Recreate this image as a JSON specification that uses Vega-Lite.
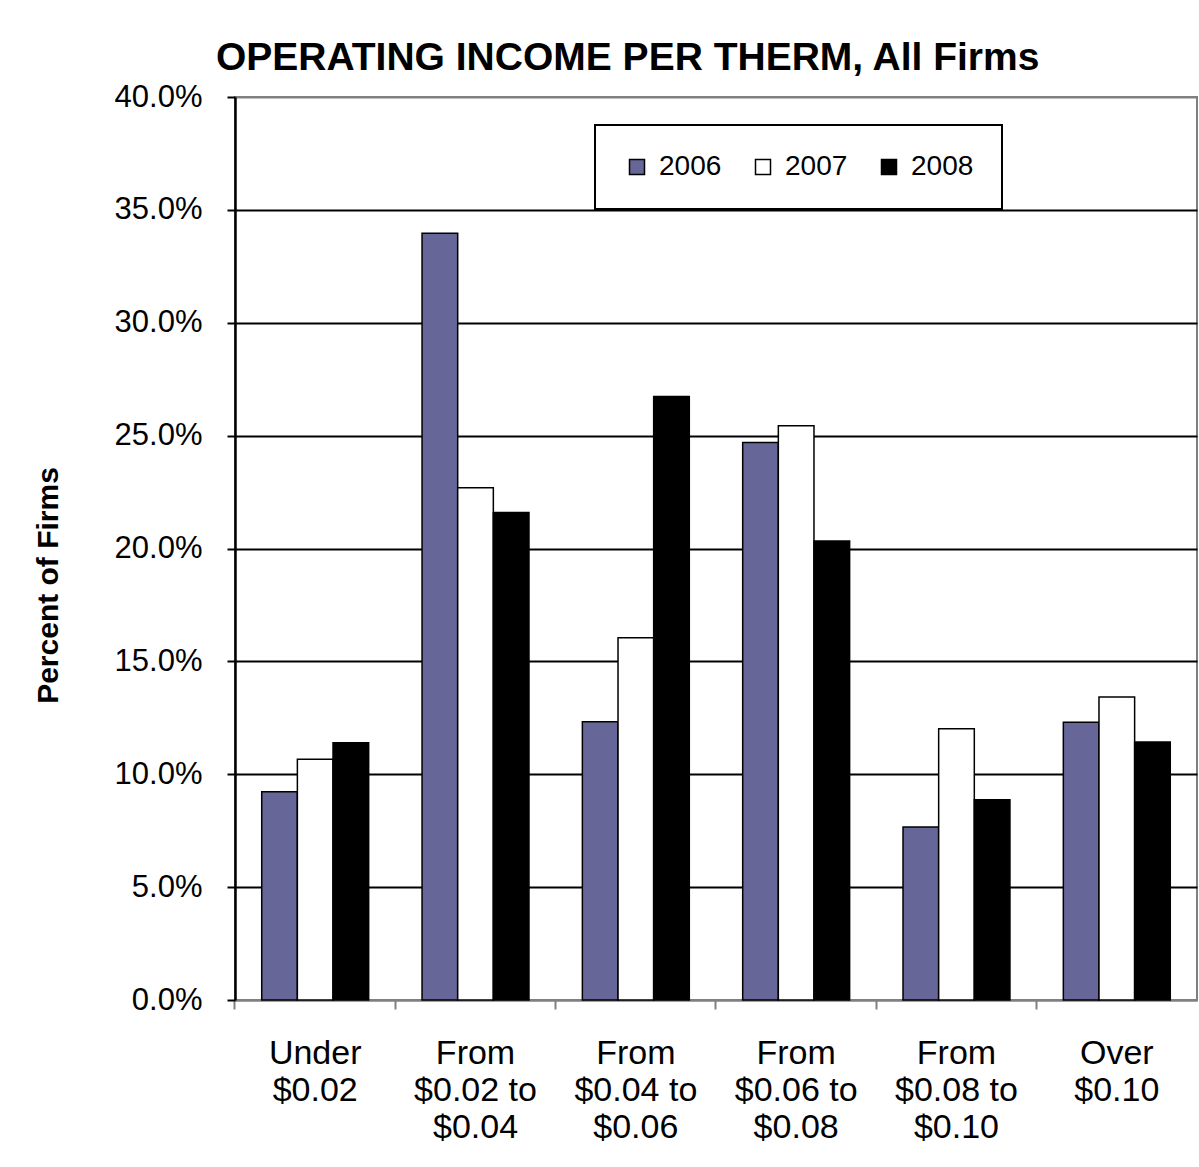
{
  "$schema": "https://vega.github.io/schema/vega-lite/v6.json",
  "autosize": {"type": "none"},
  "padding": {"left": 235, "top": 97, "right": 2, "bottom": 167},
  "width": 962,
  "height": 903,
  "background": "white",
  "title": {
    "text": "OPERATING INCOME PER THERM, All Firms",
    "anchor": "start",
    "frame": "group",
    "dx": -19,
    "offset": -28,
    "baseline": "alphabetic",
    "font": "Liberation Sans",
    "fontSize": 39,
    "fontWeight": "bold",
    "color": "black"
  },
  "data": {
    "values": [
      {"range": "Under|$0.02", "year": "2006", "share": 0.0923},
      {"range": "Under|$0.02", "year": "2007", "share": 0.1066},
      {"range": "Under|$0.02", "year": "2008", "share": 0.1140},
      {"range": "From|$0.02 to|$0.04", "year": "2006", "share": 0.3396},
      {"range": "From|$0.02 to|$0.04", "year": "2007", "share": 0.2269},
      {"range": "From|$0.02 to|$0.04", "year": "2008", "share": 0.2160},
      {"range": "From|$0.04 to|$0.06", "year": "2006", "share": 0.1233},
      {"range": "From|$0.04 to|$0.06", "year": "2007", "share": 0.1605},
      {"range": "From|$0.04 to|$0.06", "year": "2008", "share": 0.2673},
      {"range": "From|$0.06 to|$0.08", "year": "2006", "share": 0.2469},
      {"range": "From|$0.06 to|$0.08", "year": "2007", "share": 0.2544},
      {"range": "From|$0.06 to|$0.08", "year": "2008", "share": 0.2033},
      {"range": "From|$0.08 to|$0.10", "year": "2006", "share": 0.0766},
      {"range": "From|$0.08 to|$0.10", "year": "2007", "share": 0.1202},
      {"range": "From|$0.08 to|$0.10", "year": "2008", "share": 0.0887},
      {"range": "Over|$0.10", "year": "2006", "share": 0.1230},
      {"range": "Over|$0.10", "year": "2007", "share": 0.1342},
      {"range": "Over|$0.10", "year": "2008", "share": 0.1143}
    ]
  },
  "mark": {"type": "bar", "stroke": "black", "strokeWidth": 1.5},
  "encoding": {
    "x": {
      "field": "range",
      "type": "nominal",
      "sort": null,
      "scale": {"paddingInner": 0.333, "paddingOuter": 0.1667},
      "axis": {
        "title": null,
        "bandPosition": -0.25,
        "labelAngle": 0,
        "labelExpr": "split(datum.label, '|')",
        "labelFontSize": 34,
        "labelLineHeight": 37,
        "labelPadding": 27,
        "labelBaseline": "top",
        "labelColor": "black",
        "domainColor": "#808080",
        "domainWidth": 2,
        "tickColor": "#808080",
        "tickWidth": 2,
        "tickSize": 9,
        "grid": false
      }
    },
    "xOffset": {
      "field": "year",
      "type": "nominal",
      "scale": {"paddingInner": 0, "paddingOuter": 0}
    },
    "y": {
      "field": "share",
      "type": "quantitative",
      "scale": {"domain": [0, 0.4], "nice": false, "zero": true},
      "axis": {
        "title": "Percent of Firms",
        "titleFontSize": 30,
        "titleFontWeight": "bold",
        "titleColor": "black",
        "titleAngle": 270,
        "titleX": -187,
        "titleY": 488,
        "titleAlign": "center",
        "titleBaseline": "middle",
        "values": [0, 0.05, 0.1, 0.15, 0.2, 0.25, 0.3, 0.35, 0.4],
        "format": ".1%",
        "labelFontSize": 31,
        "labelColor": "black",
        "labelPadding": 25,
        "domainColor": "black",
        "domainWidth": 2.5,
        "tickColor": "black",
        "tickWidth": 2,
        "tickSize": 8,
        "grid": true,
        "gridColor": {
          "condition": {"test": "datum.value <= 0 || datum.value >= 0.4", "value": "#808080"},
          "value": "black"
        },
        "gridWidth": 2
      }
    },
    "color": {
      "field": "year",
      "type": "nominal",
      "scale": {"domain": ["2006", "2007", "2008"], "range": ["#666699", "#ffffff", "#000000"]},
      "legend": {
        "title": null,
        "orient": "none",
        "legendX": 360,
        "legendY": 28,
        "direction": "horizontal",
        "padding": 28,
        "strokeColor": "black",
        "fillColor": "white",
        "symbolType": "square",
        "symbolSize": 225,
        "symbolStrokeColor": "black",
        "symbolStrokeWidth": 1.5,
        "symbolOpacity": 1,
        "labelFontSize": 28,
        "labelColor": "black",
        "labelOffset": 8,
        "columnPadding": 27
      }
    }
  },
  "config": {
    "font": "Liberation Sans",
    "view": {"stroke": "#808080", "strokeWidth": 2},
    "axis": {"labelFont": "Liberation Sans", "titleFont": "Liberation Sans"},
    "legend": {"labelFont": "Liberation Sans", "strokeWidth": 2}
  }
}
